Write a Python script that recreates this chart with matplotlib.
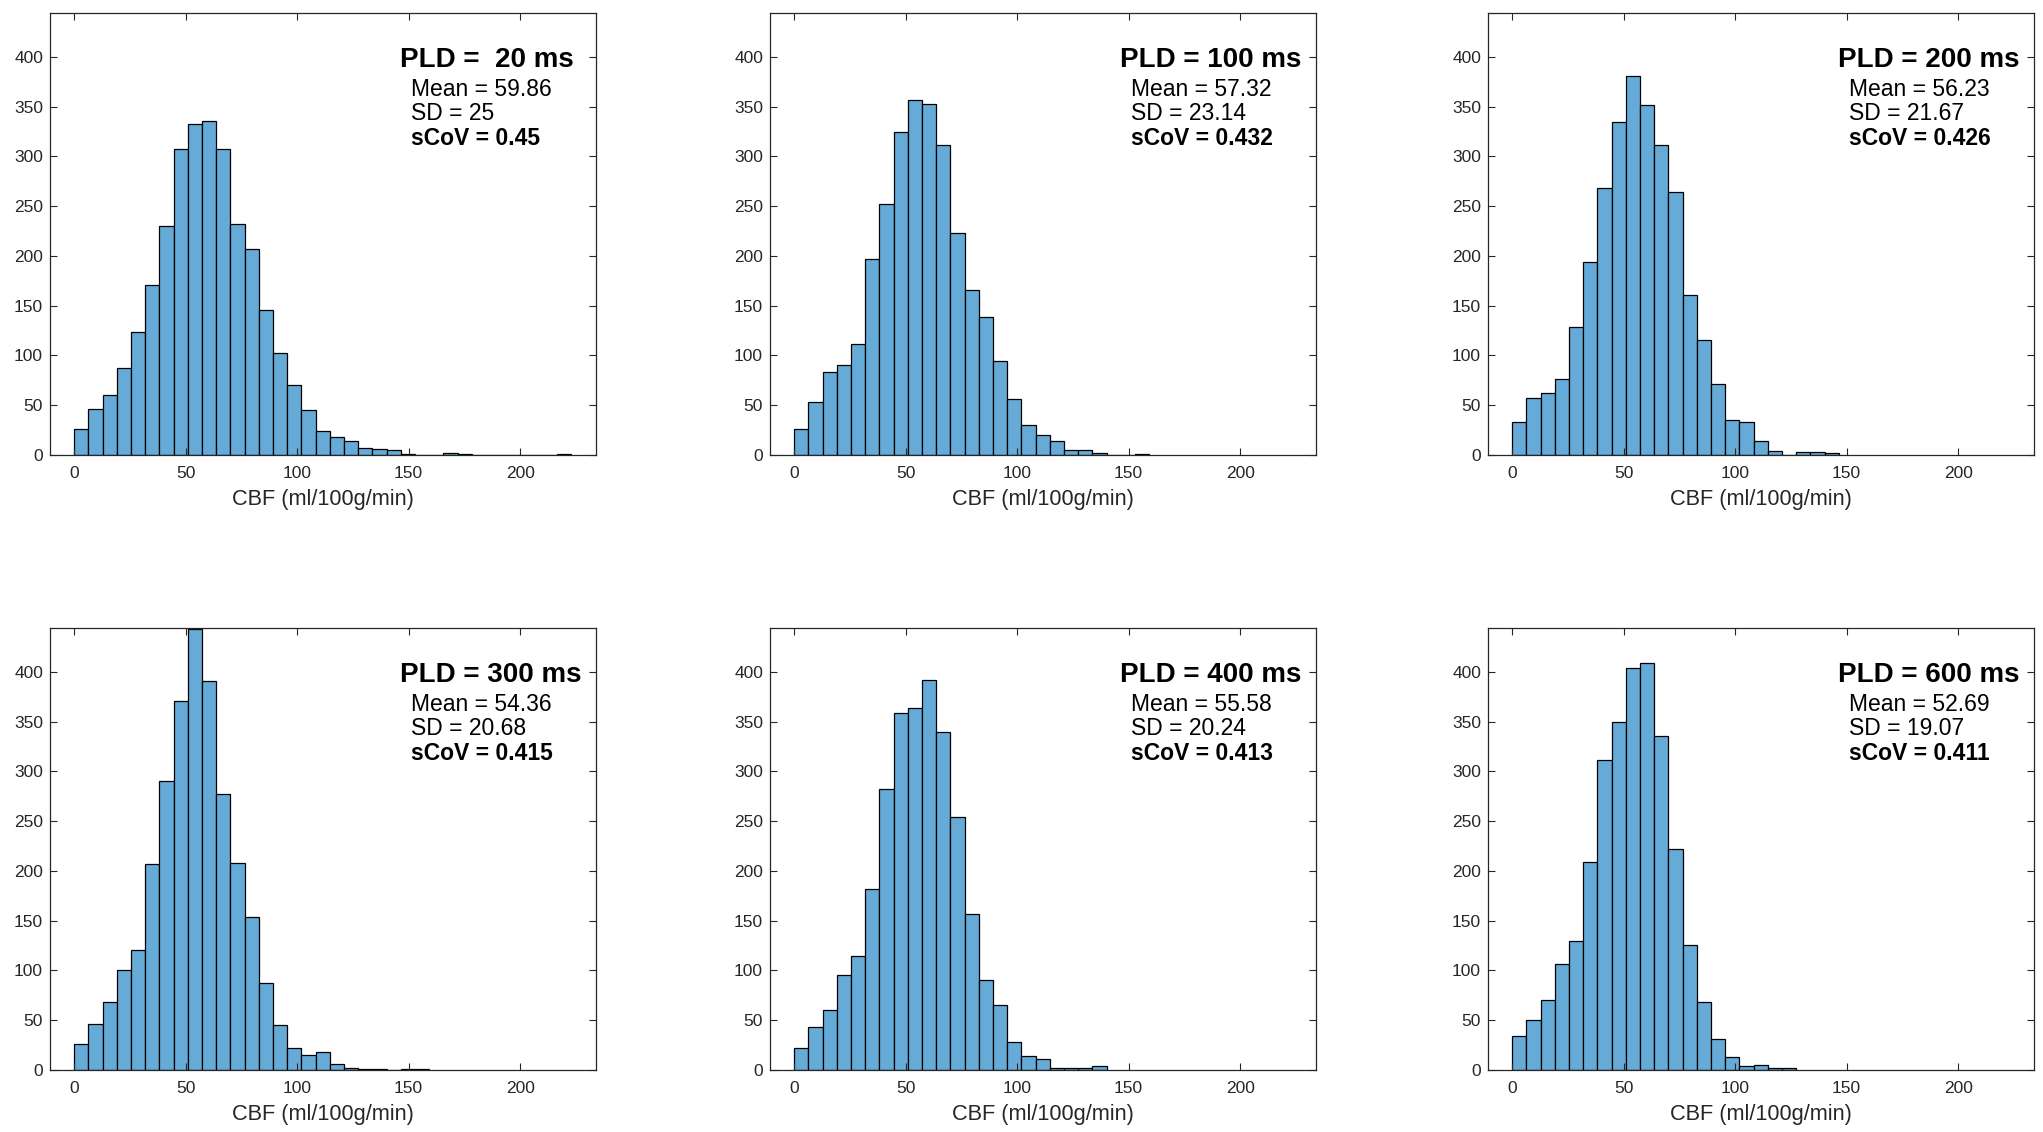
import numpy as np
import matplotlib
matplotlib.use("Agg")
import matplotlib.pyplot as plt

plt.rcParams['font.family'] = ['Liberation Sans', 'DejaVu Sans']

BIN_WIDTH = 6.37

pld_labels = ["PLD =  20 ms", "PLD = 100 ms", "PLD = 200 ms",
              "PLD = 300 ms", "PLD = 400 ms", "PLD = 600 ms"]
means = ["59.86", "57.32", "56.23", "54.36", "55.58", "52.69"]
sds = ["25", "23.14", "21.67", "20.68", "20.24", "19.07"]
scovs = ["0.45", "0.432", "0.426", "0.415", "0.413", "0.411"]

counts_20 = [26, 46, 60, 87, 124, 171, 230, 307, 332, 336, 307, 232, 207, 146,
             102, 70, 45, 24, 18, 14, 7, 6, 5, 1, 0, 0, 2, 1, 0, 0, 0, 0, 0, 0, 1]
counts_100 = [26, 53, 83, 90, 112, 197, 252, 324, 357, 353, 311, 223, 166, 139,
              94, 56, 30, 20, 14, 5, 5, 2, 0, 0, 1]
counts_200 = [33, 57, 62, 76, 129, 194, 268, 335, 381, 352, 311, 264, 161, 116,
              71, 35, 33, 14, 4, 0, 3, 3, 2]
counts_300 = [26, 46, 68, 100, 121, 207, 290, 371, 443, 391, 277, 208, 154, 87,
              45, 22, 15, 18, 6, 2, 1, 1, 0, 1, 1]
counts_400 = [22, 43, 60, 95, 115, 182, 282, 359, 364, 392, 340, 254, 157, 90,
              65, 28, 14, 11, 2, 2, 2, 4]
counts_600 = [34, 50, 70, 106, 130, 209, 311, 350, 404, 409, 336, 222, 126, 68,
              31, 13, 4, 5, 2, 2]

all_counts = [counts_20, counts_100, counts_200, counts_300, counts_400, counts_600]

xticks = [0, 50, 100, 150, 200]
yticks = [0, 50, 100, 150, 200, 250, 300, 350, 400]
xlabel = "CBF (ml/100g/min)"

BAR_COLOR = (0.4, 0.668, 0.845)
AX_COLOR = '#262626'

fig = plt.figure(figsize=(20.43, 11.32), dpi=100)

W, H = 2043.0, 1132.0
col_left = [50, 770, 1488]
ax_w = 546
row_top = [13, 628]
ax_h = 442

for i, counts in enumerate(all_counts):
    r, c = divmod(i, 3)
    left = col_left[c] / W
    bottom = 1 - (row_top[r] + ax_h) / H
    ax = fig.add_axes([left, bottom, ax_w / W, ax_h / H])
    edges = np.arange(len(counts) + 1) * BIN_WIDTH
    ax.bar(edges[:-1], counts, width=BIN_WIDTH, align='edge',
           color=BAR_COLOR, edgecolor='black', linewidth=0.9)
    ax.set_xlim(-10.8, 234)
    ax.set_ylim(0, 444)
    ax.set_xticks(xticks)
    ax.set_yticks(yticks)
    ax.tick_params(direction='in', top=True, right=True, length=5, width=0.8,
                   labelsize=12.5, colors=AX_COLOR, labelcolor=AX_COLOR)
    ax.tick_params(axis='x', pad=8)
    ax.tick_params(axis='y', pad=5)
    for s in ax.spines.values():
        s.set_color(AX_COLOR)
        s.set_linewidth(0.9)
    ax.set_xlabel(xlabel, fontsize=15.7, color=AX_COLOR, labelpad=6)

    ax.text(0.641, 0.894, pld_labels[i], transform=ax.transAxes,
            fontsize=20, fontweight='bold', va='center', ha='left', color='black')
    ax.text(0.661, 0.828, "Mean = " + means[i], transform=ax.transAxes,
            fontsize=16.5, va='center', ha='left', color='black')
    ax.text(0.661, 0.772, "SD = " + sds[i], transform=ax.transAxes,
            fontsize=16.5, va='center', ha='left', color='black')
    ax.text(0.661, 0.715, "sCoV = " + scovs[i], transform=ax.transAxes,
            fontsize=16.5, fontweight='bold', va='center', ha='left', color='black')

fig.savefig("out.png", dpi=100, facecolor='white')
